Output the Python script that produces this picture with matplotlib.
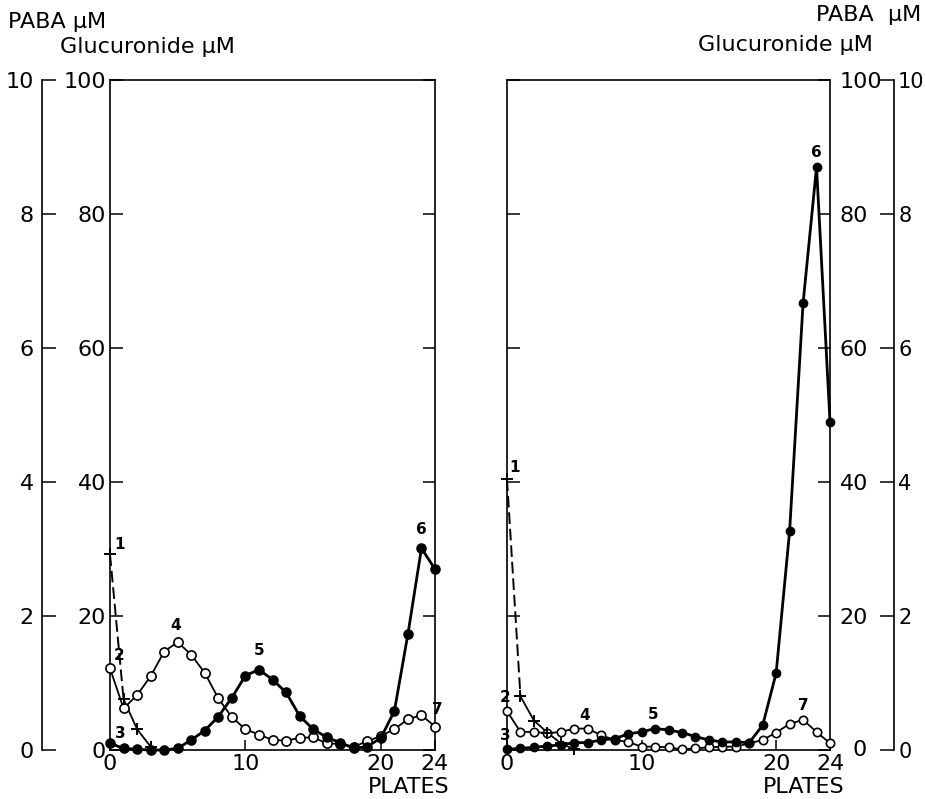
import matplotlib
matplotlib.use("Agg")
import matplotlib.pyplot as plt

# plate numbers 0..24, values in µM
plates = list(range(25))

left_filled = [1.0, 0.25, 0.1, 0.0, 0.0, 0.25, 1.5, 2.9, 5.0, 7.8, 11.1, 12.0, 10.5,
               8.6, 5.1, 3.1, 1.9, 1.1, 0.25, 0.5, 1.8, 5.8, 17.3, 30.1, 27.0]
left_open = [12.2, 6.2, 8.2, 11.0, 14.7, 16.1, 14.2, 11.5, 7.7, 4.9, 3.1, 2.3, 1.5,
             1.4, 1.8, 1.9, 1.0, 0.9, 0.5, 1.3, 2.1, 3.1, 4.6, 5.2, 3.5]
left_plus = [29.2, 7.6, 3.1, 0.5]

right_filled = [0.1, 0.25, 0.4, 0.6, 0.75, 1.1, 1.1, 1.5, 1.7, 2.4, 2.7, 3.2, 3.0,
                2.6, 2.0, 1.5, 1.2, 1.2, 1.1, 3.7, 11.5, 32.7, 66.7, 87.0, 49.0]
right_open = [5.8, 2.7, 2.7, 2.5, 2.7, 3.2, 3.2, 2.2, 1.5, 1.2, 0.5, 0.5, 0.4,
              0.1, 0.25, 0.4, 0.5, 0.5, 1.0, 1.5, 2.6, 3.9, 4.5, 2.7, 1.0]
right_plus = [40.4, 8.0, 4.4, 2.6, 1.0, 0.1]

gluc_ticks = [0, 20, 40, 60, 80, 100]
paba_ticks = [0, 2, 4, 6, 8, 10]
plate_ticks = [0, 10, 20, 24]

# peak numbers: (text, series, plate index, offset px)
left_labels = [("1", "plus", 0, (10, 10)), ("2", "open", 0, (9, 13)),
               ("3", "filled", 0, (10, 10)), ("4", "open", 5, (-2, 17)),
               ("5", "filled", 11, (0, 19)), ("6", "filled", 23, (0, 19)),
               ("7", "open", 24, (2, 17))]
right_labels = [("1", "plus", 0, (8, 12)), ("2", "open", 0, (-2, 14)),
                ("3", "filled", 0, (-2, 14)), ("4", "open", 6, (-3, 13)),
                ("5", "filled", 11, (-2, 14)), ("6", "filled", 23, (0, 15)),
                ("7", "open", 22, (0, 14))]

W, H = 925, 799
FS = 16
plt.rcParams["font.family"] = ["DejaVu Sans"]


def rect(x0, x1, ytop, ybot):
    return [x0 / W, 1 - ybot / H, (x1 - x0) / W, (ybot - ytop) / H]


def draw_panel(ax, filled, opened, plus, labels, ms):
    ax.plot(plates, opened, "-", color="black", lw=1.3, marker="o", ms=ms,
            mfc="white", mec="black", mew=1.2, clip_on=False, zorder=3)
    ax.plot(plates, filled, "-", color="black", lw=2.0, marker="o", ms=ms,
            mfc="black", mec="black", clip_on=False, zorder=4)
    n = len(plus)
    ax.plot(plates[:2], plus[:2], color="black", lw=1.4, ls=(0, (6, 2.5)),
            clip_on=False, zorder=2)
    ax.plot(plates[1:n], plus[1:n], color="black", lw=1.3, clip_on=False, zorder=2)
    ax.plot(plates[:n], plus, ls="none", marker="+", ms=9, mew=1.4,
            color="black", clip_on=False, zorder=5)
    series = {"filled": filled, "open": opened, "plus": plus}
    for txt, key, i, off in labels:
        ax.annotate(txt, xy=(plates[i], series[key][i]), xytext=off,
                    textcoords="offset pixels", ha="center", va="center",
                    fontsize=11, fontweight="bold", zorder=6)
    ax.set_xlim(0, 24)
    ax.set_ylim(0, 100)
    ax.set_xticks(plate_ticks)
    ax.set_yticks(gluc_ticks)
    ax.tick_params(axis="x", direction="in", length=7, width=1.1,
                   labelsize=FS, pad=3)
    ax.tick_params(axis="y", direction="in", length=9, width=1.1,
                   left=True, right=True, labelsize=FS)
    for s in ax.spines.values():
        s.set_linewidth(1.2)
    ax.text(1.045, -0.04, "PLATES", transform=ax.transAxes, ha="right",
            va="top", fontsize=FS)


def paba_axis(ax, side):
    for name, s in ax.spines.items():
        s.set_visible(name == side)
        s.set_linewidth(1.2)
    ax.patch.set_visible(False)
    ax.set_xticks([])
    ax.set_ylim(0, 10)
    ax.set_yticks(paba_ticks)
    if side == "right":
        ax.yaxis.tick_right()
    ax.tick_params(axis="y", direction="in", length=10, width=1.1,
                   labelsize=FS, pad=6)


fig = plt.figure(figsize=(W / 100, H / 100), dpi=100)

axL = fig.add_axes(rect(110, 435, 80, 750))
draw_panel(axL, left_filled, left_open, left_plus, left_labels, 6.6)
axL.tick_params(axis="y", pad=3)

axR = fig.add_axes(rect(507, 830, 80, 750))
draw_panel(axR, right_filled, right_open, right_plus, right_labels, 6.0)
axR.tick_params(axis="y", labelleft=False, labelright=True, pad=7)
# the 0 sits beside the "24" of the plate axis, so place it a little further out
axR.set_yticklabels([""] + [str(t) for t in gluc_ticks[1:]])
axR.annotate(str(gluc_ticks[0]), xy=(1, 0), xycoords="axes fraction",
             xytext=(30, 0), textcoords="offset pixels",
             ha="center", va="center", fontsize=FS)

pL = fig.add_axes(rect(42, 60, 80, 750))
paba_axis(pL, "left")
pR = fig.add_axes(rect(877, 894, 80, 750))
paba_axis(pR, "right")
pR.tick_params(axis="y", labelsize=15, pad=3)

fig.text(8 / W, 1 - 22 / H, "PABA μM", fontsize=FS, ha="left", va="center")
fig.text(60 / W, 1 - 47 / H, "Glucuronide μM", fontsize=FS, ha="left", va="center")
fig.text(921 / W, 1 - 15 / H, "PABA  μM", fontsize=FS, ha="right", va="center")
fig.text(873 / W, 1 - 45 / H, "Glucuronide μM", fontsize=FS, ha="right", va="center")

fig.savefig("out.png", dpi=100)
